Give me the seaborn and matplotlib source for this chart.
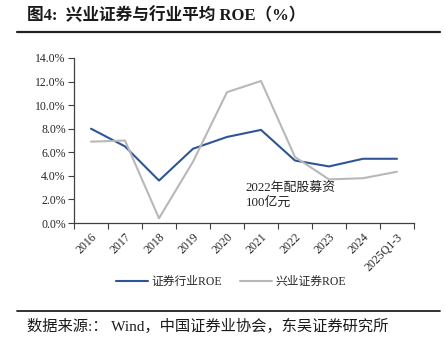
import numpy as np
import pandas as pd
import matplotlib
matplotlib.use('Agg')
import matplotlib.pyplot as plt
import seaborn as sns
from matplotlib.lines import Line2D

# --- dữ liệu ---
years = ['2016', '2017', '2018', '2019', '2020', '2021', '2022', '2023', '2024', '2025Q1-3']
industry_roe = [8.0, 6.5, 3.6, 6.3, 7.3, 7.9, 5.3, 4.8, 5.45, 5.45]
xyzq_roe = [6.9, 7.0, 0.4, 5.2, 11.1, 12.05, 5.6, 3.7, 3.8, 4.35]
y_ticks = [0, 2, 4, 6, 8, 10, 12, 14]

sns.set_theme(style='white')
plt.rcParams['font.family'] = ['Liberation Serif', 'Noto Sans CJK SC', 'DejaVu Sans']
cjk = ['Noto Sans CJK SC', 'DejaVu Sans']

df = pd.DataFrame({'year': years, '证券行业ROE': industry_roe, '兴业证券ROE': xyzq_roe})
df['idx'] = np.arange(len(years))

blue = '#2F5597'
gray = '#B8B8B8'

fig = plt.figure(figsize=(4.45, 3.52), dpi=100)
ax = fig.add_axes([74 / 445, 1 - 223 / 352, (414 - 74) / 445, (223 - 58) / 352])

sns.lineplot(data=df, x='idx', y='证券行业ROE', color=blue, linewidth=1.5, ax=ax)
sns.lineplot(data=df, x='idx', y='兴业证券ROE', color=gray, linewidth=1.5, ax=ax)

ax.set_xlim(-0.5, len(years) - 0.5)
ax.set_ylim(0, 14)
ax.set_yticks(y_ticks)
ax.set_yticklabels([f'{v:.1f}%' for v in y_ticks], fontsize=8.5, family='Liberation Serif')
ax.set_xticks(df['idx'])
ax.set_xticklabels(years, rotation=45, ha='right', rotation_mode='anchor',
                   fontsize=8.5, family='Liberation Serif')
ax.set_xticks(np.arange(-0.5, len(years)), minor=True)
ax.tick_params(axis='x', which='major', length=0, pad=6)
ax.tick_params(axis='x', which='minor', length=4, width=0.8, color='#404040', direction='out', bottom=True)
ax.tick_params(axis='y', length=4, width=0.8, color='#404040', direction='out', left=True, pad=2)
ax.set_xlabel('')
ax.set_ylabel('')
for s in ['top', 'right']:
    ax.spines[s].set_visible(False)
for s in ['left', 'bottom']:
    ax.spines[s].set_color('#404040')
    ax.spines[s].set_linewidth(0.9)

ax.text(4.55, 2.37, '2022年配股募资\n100亿元', fontsize=9.3, family=['Liberation Serif'] + cjk,
        va='center', ha='left', linespacing=1.25, color='#222222')

handles = [Line2D([], [], color=blue, lw=1.5), Line2D([], [], color=gray, lw=1.5)]
fig.legend(handles, ['证券行业ROE', '兴业证券ROE'], loc='center', bbox_to_anchor=(231 / 445, 1 - 282 / 352),
           ncol=2, frameon=False, prop={'family': ['Liberation Serif'] + cjk, 'size': 8.5},
           handlelength=2.7, columnspacing=1.5, handletextpad=0.3)

fig.text(27 / 445, 1 - 16 / 352, '图4:  兴业证券与行业平均 ROE（%）', fontsize=12, fontweight='bold',
         family=['Liberation Serif'] + cjk, va='center', ha='left', color='#1a1a1a')
fig.add_artist(Line2D([17 / 445, 440 / 445], [1 - 32 / 352] * 2, color='#222222', lw=1.6))
fig.add_artist(Line2D([17 / 445, 440 / 445], [1 - 311 / 352] * 2, color='#222222', lw=1.3))
fig.text(27 / 445, 1 - 326 / 352, '数据来源:： Wind，中国证券业协会，东吴证券研究所', fontsize=11,
         family=['Liberation Serif'] + cjk, va='center', ha='left', color='#1a1a1a')

fig.savefig('out.png', dpi=100)
